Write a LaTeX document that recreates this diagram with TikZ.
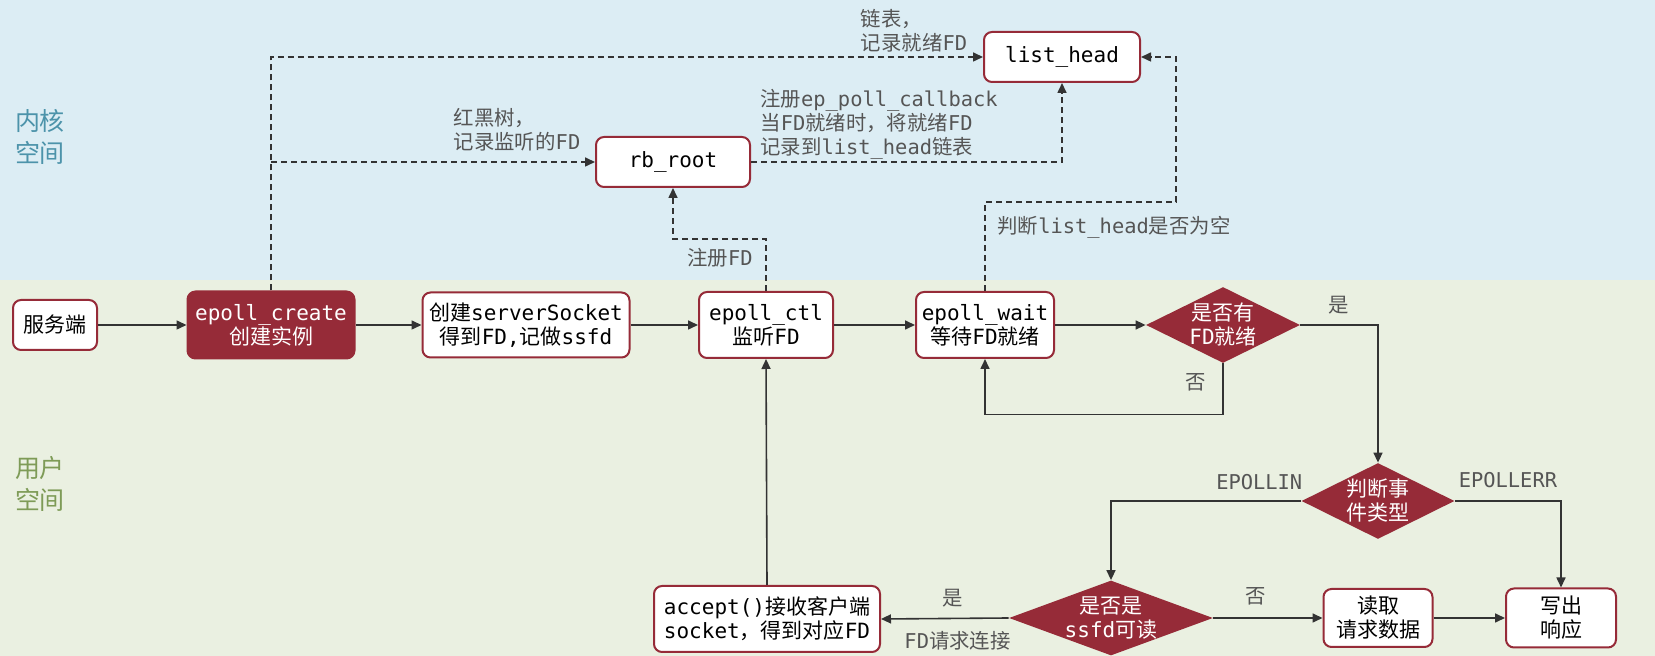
\documentclass[tikz,border=0pt]{standalone}
\usepackage{fontspec}
\setmainfont{DejaVu Sans Mono}
\newfontfamily\zh{Noto Sans CJK SC}
\usetikzlibrary{shapes.geometric,arrows.meta,calc}
\definecolor{kred}{HTML}{962B38}
\definecolor{kblue}{HTML}{DCEDF4}
\definecolor{kgreen}{HTML}{EAF0E1}
\definecolor{kgray}{HTML}{555555}
\definecolor{kteal}{HTML}{4C93AA}
\definecolor{kolive}{HTML}{7E9B57}
\begin{document}
\begin{tikzpicture}[x=0.5pt,y=-0.5pt,
  box/.style={draw=kred,line width=1pt,fill=white,rounded corners=4pt,inner sep=0pt,align=center,font=\fontsize{10.5}{12}\selectfont,text=black},
  darkbox/.style={box,fill=kred,text=white},
  dia/.style={diamond,fill=kred,inner sep=0pt},
  diatext/.style={text=white,align=center,font=\fontsize{10.5}{12}\selectfont,inner sep=0pt},
  arr/.style={draw=black!80,line width=0.8pt,-{Triangle[length=5pt,width=4.5pt]}},
  darr/.style={arr,dash pattern=on 3pt off 2pt},
  lbl/.style={text=kgray,font=\fontsize{10.2}{12}\selectfont,align=left,inner sep=1pt},
  zone/.style={font=\zh\fontsize{12.5}{16}\selectfont,align=left,inner sep=0pt}
]
\useasboundingbox (0,0) rectangle (1655,656);
\fill[kblue] (0,0) rectangle (1655,280);
\fill[kgreen] (0,280) rectangle (1655,656);

% zone labels
\node[zone,text=kteal] (kz) at (40,137) {内核\\空间};
\node[zone,text=kolive] (uz) at (40,484) {用户\\空间};

% boxes
\node[box,minimum width=42pt,minimum height=25pt] (srv) at (55,325) {\zh 服务端};
\node[darkbox,minimum width=83.5pt,minimum height=33.5pt] (create) at (271,325) {epoll\_create\\{\zh 创建实例}};
\node[box,minimum width=103.5pt,minimum height=32.5pt] (sock) at (526,325) {{\zh 创建}serverSocket\\{\zh 得到}FD,{\zh 记做}ssfd};
\node[box,minimum width=67pt,minimum height=33pt] (ctl) at (766,325) {epoll\_ctl\\{\zh 监听}FD};
\node[box,minimum width=69pt,minimum height=33pt] (wait) at (985,325) {epoll\_wait\\{\zh 等待}FD{\zh 就绪}};
\node[dia,minimum width=77pt,minimum height=38pt,label={[name=readyt,diatext]center:{{\zh 是否有}\\FD{\zh 就绪}}}] (ready) at (1223,325) {};
\node[dia,minimum width=76.5pt,minimum height=38pt,label={[name=judget,diatext]center:{{\zh 判断事}\\{\zh 件类型}}}] (judge) at (1378,501) {};
\node[dia,minimum width=102pt,minimum height=37.5pt,label={[name=ssfdt,diatext]center:{{\zh 是否是}\\ssfd{\zh 可读}}}] (ssfd) at (1111,618) {};
\node[box,minimum width=113pt,minimum height=33pt] (accept) at (767,619) {accept(){\zh 接收客户端}\\socket{\zh ，得到对应}FD};
\node[box,minimum width=54.5pt,minimum height=29pt] (read) at (1378,618) {{\zh 读取}\\{\zh 请求数据}};
\node[box,minimum width=55pt,minimum height=29.5pt] (write) at (1561,618) {{\zh 写出}\\{\zh 响应}};
\node[box,minimum width=77pt,minimum height=25pt] (rb) at (673,162) {rb\_root};
\node[box,minimum width=78pt,minimum height=25pt] (lh) at (1062,57) {list\_head};

% gray labels
\node[lbl] (lhlab) at (914,31) {{\zh 链表，}\\{\zh 记录就绪}FD};
\node[lbl] (rblab) at (517,130) {{\zh 红黑树，}\\{\zh 记录监听的}FD};
\node[lbl] (cblab) at (879,124) {{\zh 注册}ep\_poll\_callback\\{\zh 当}FD{\zh 就绪时，将就绪}FD\\{\zh 记录到}list\_head{\zh 链表}};
\node[lbl] (reglab) at (720,258) {{\zh 注册}FD};
\node[lbl] (emptylab) at (1114,227) {{\zh 判断}list\_head{\zh 是否为空}};

% solid connectors
\draw[arr] (srv.east) -- (create.west);
\draw[arr] (create.east) -- (sock.west);
\draw[arr] (sock.east) -- (ctl.west);
\draw[arr] (ctl.east) -- (wait.west);
\draw[arr] (wait.east) -- (ready.west);
\draw[arr] (ready.east) -| node[pos=0.245,above=4pt,lbl] (yes1) {\zh 是} (judge.north);
\draw[arr] (ready.south) -- node[pos=0.37,left=7pt,lbl] (no1) {\zh 否} ++(0,51) -| (wait.south);
\draw[arr] (judge.west) -| node[pos=0.11,above=4pt,lbl] (epin) {EPOLLIN} (ssfd.north);
\draw[arr] (judge.east) -| node[pos=0.25,above=5pt,lbl] (eperr) {EPOLLERR} (write.north);
\draw[arr] (ssfd.west) -- node[pos=0.44,above=4pt,lbl] (yes2) {\zh 是} node[pos=0.4,below=5pt,lbl] (fdreq) {FD{\zh 请求连接}} (accept.east);
\draw[arr] (ssfd.east) -- node[pos=0.39,above=5pt,lbl] (no2) {\zh 否} (read.west);
\draw[arr] (read.east) -- (write.west);
\draw[arr] (accept.north) -- (ctl.south);

% dashed connectors
\draw[darr] (create.north) |- (lh.west);
\draw[darr] (create.north |- rb.west) -- (rb.west);
\draw[darr] (rb.east) -| (lh.south);
\draw[darr] (ctl.north) -- ++(0,-52) -| (rb.south);
\coordinate (wk) at (1176,202);
\draw[darr] (wait.north) |- (wk) |- (lh.east);
\end{tikzpicture}
\end{document}
